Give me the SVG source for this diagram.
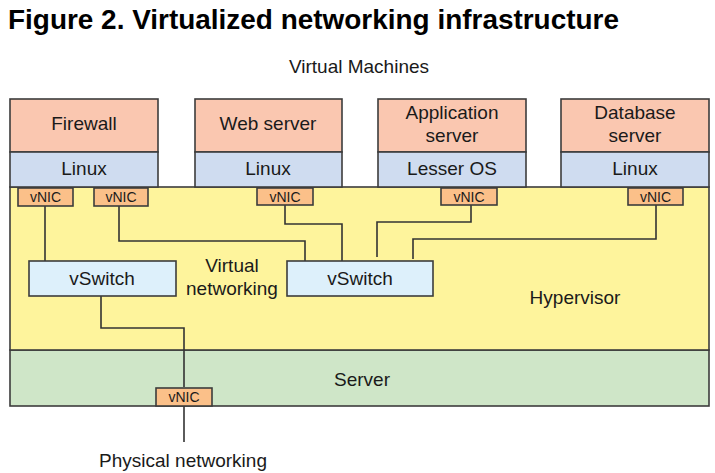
<svg xmlns="http://www.w3.org/2000/svg" width="715" height="473" viewBox="0 0 715 473">
<style>
text{font-family:"Liberation Sans",Arial,sans-serif;fill:#1a1a1a;text-anchor:middle}
.title{font-weight:bold;font-size:28px;text-anchor:start;fill:#000}
.lbl{font-size:19px}
.nic{font-size:14px}
.box{stroke:#3c3c3c;stroke-width:1.6}
.app{fill:#fac7b0}
.os{fill:#cfdcf0}
.hyp{fill:#fef49c}
.srv{fill:#cfe6c8}
.vnic{fill:#fbc089}
.vsw{fill:#ddf0fb}
.conn{fill:none;stroke:#333;stroke-width:1.6}
</style>
<rect width="715" height="473" fill="#fff"/>
<text class="title" x="8" y="29" textLength="611" lengthAdjust="spacingAndGlyphs">Figure 2. Virtualized networking infrastructure</text>
<text class="lbl" x="359" y="73">Virtual Machines</text>

<g id="server">
<rect class="box srv" x="10" y="350" width="699" height="56"/>
<text class="lbl" x="362" y="386">Server</text>
</g>
<g id="hypervisor">
<rect class="box hyp" x="10" y="187" width="699" height="163"/>
<text class="lbl" x="575" y="304">Hypervisor</text>
<text class="lbl" x="232" y="272">Virtual</text>
<text class="lbl" x="232" y="295">networking</text>
</g>

<g id="vm-firewall">
<rect class="box app" x="10" y="99" width="148" height="53"/>
<rect class="box os" x="10" y="152" width="148" height="35"/>
<text class="lbl" x="84" y="130">Firewall</text>
<text class="lbl" x="84" y="175">Linux</text>
</g>
<g id="vm-web">
<rect class="box app" x="195" y="99" width="147" height="53"/>
<rect class="box os" x="195" y="152" width="147" height="35"/>
<text class="lbl" x="268" y="130">Web server</text>
<text class="lbl" x="268" y="175">Linux</text>
</g>
<g id="vm-app">
<rect class="box app" x="378" y="99" width="148" height="53"/>
<rect class="box os" x="378" y="152" width="148" height="35"/>
<text class="lbl" x="452" y="119">Application</text>
<text class="lbl" x="452" y="142">server</text>
<text class="lbl" x="452" y="175">Lesser OS</text>
</g>
<g id="vm-db">
<rect class="box app" x="561" y="99" width="148" height="53"/>
<rect class="box os" x="561" y="152" width="148" height="35"/>
<text class="lbl" x="635" y="119">Database</text>
<text class="lbl" x="635" y="142">server</text>
<text class="lbl" x="635" y="175">Linux</text>
</g>

<g id="connectors">
<path class="conn" d="M45,206 V261"/>
<path class="conn" d="M119,206 V241 H305 V261"/>
<path class="conn" d="M285,205 V224 H342 V261"/>
<path class="conn" d="M471,205 V222 H377 V257"/>
<path class="conn" d="M656,205 V239 H413 V259"/>
<path class="conn" d="M101,296 V328 H184 V387"/>
<path class="conn" d="M184,406 V442"/>
</g>

<g id="vnic-fw1"><rect class="box vnic" x="18" y="188" width="55" height="18"/><text class="nic" x="45.5" y="202">vNIC</text></g>
<g id="vnic-fw2"><rect class="box vnic" x="94" y="188" width="54" height="18"/><text class="nic" x="121" y="202">vNIC</text></g>
<g id="vnic-web"><rect class="box vnic" x="257" y="188" width="56" height="17"/><text class="nic" x="285" y="201.5">vNIC</text></g>
<g id="vnic-app"><rect class="box vnic" x="441" y="188" width="56" height="17"/><text class="nic" x="469" y="201.5">vNIC</text></g>
<g id="vnic-db"><rect class="box vnic" x="628" y="188" width="55" height="17"/><text class="nic" x="655.5" y="201.5">vNIC</text></g>
<g id="vnic-server"><rect class="box vnic" x="156" y="388" width="56" height="18"/><text class="nic" x="184" y="402">vNIC</text></g>

<g id="vswitch-left">
<rect class="box vsw" x="29" y="261" width="147" height="35"/>
<text class="lbl" x="102" y="285">vSwitch</text>
</g>
<g id="vswitch-right">
<rect class="box vsw" x="287" y="261" width="146" height="35"/>
<text class="lbl" x="360" y="285">vSwitch</text>
</g>

<text class="lbl" x="183" y="467">Physical networking</text>
</svg>
